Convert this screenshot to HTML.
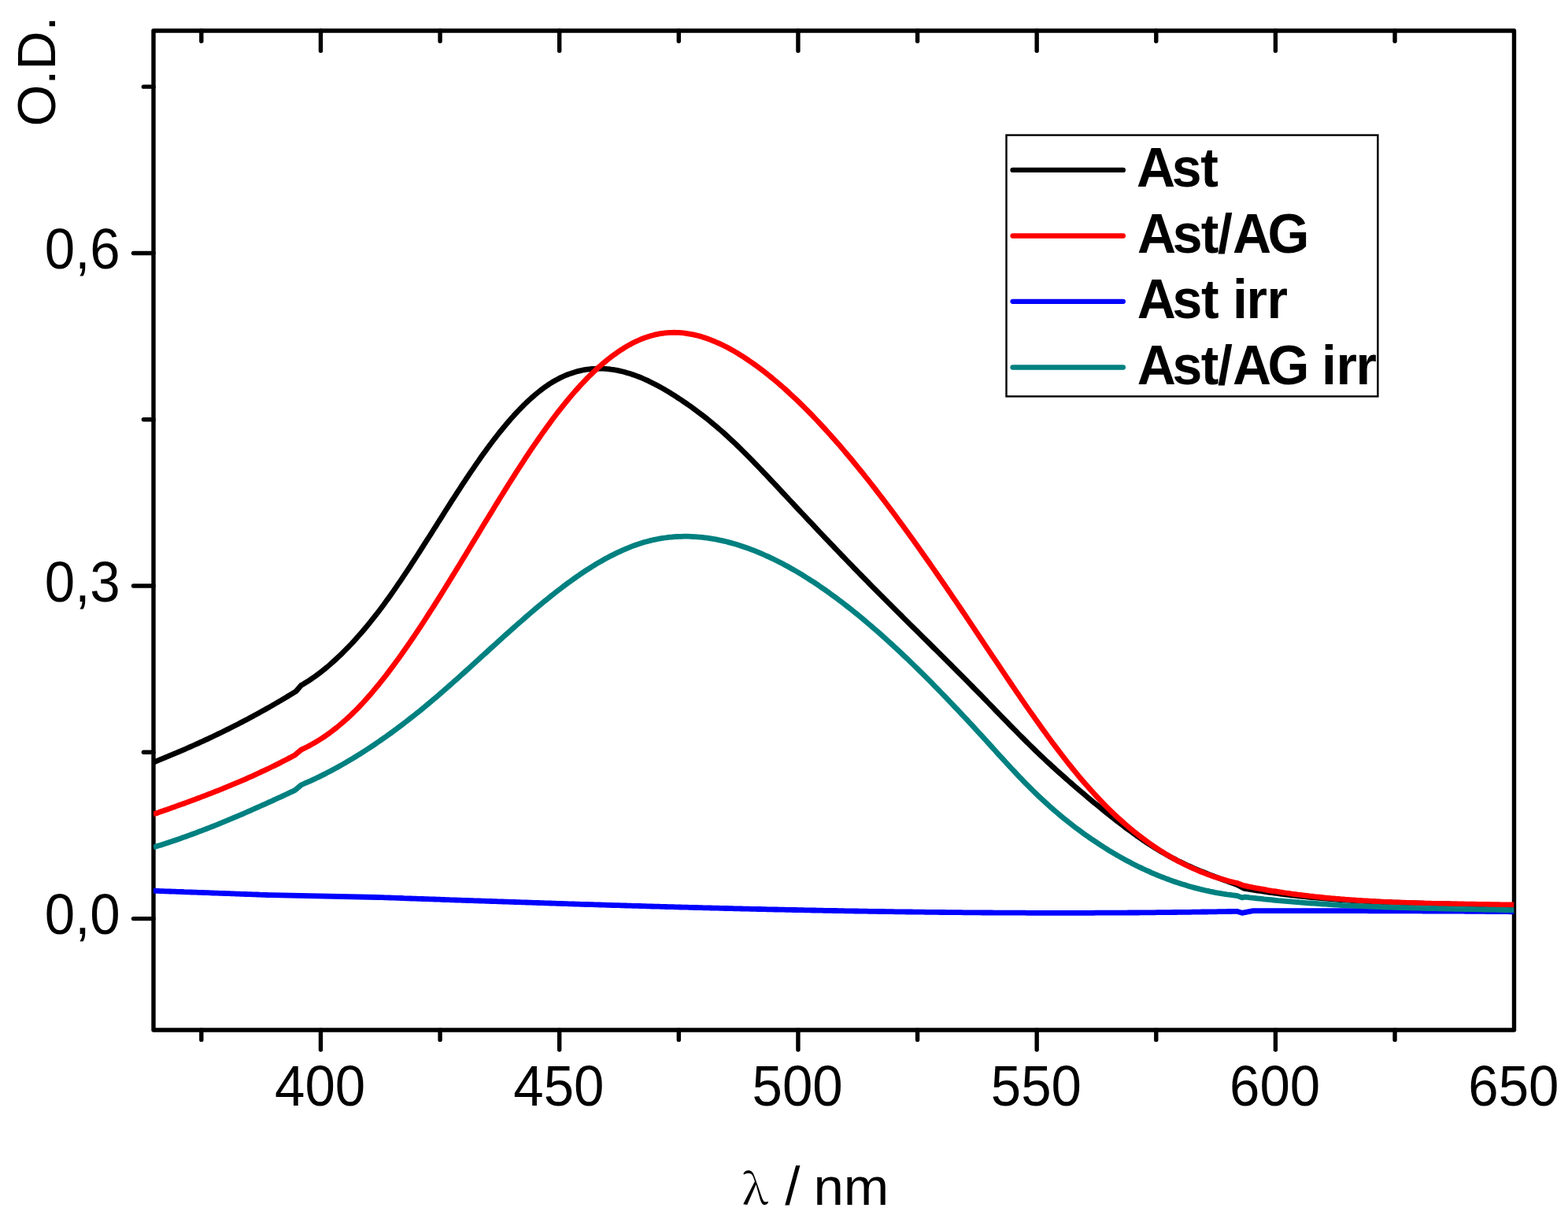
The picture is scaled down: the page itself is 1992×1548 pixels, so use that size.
<!DOCTYPE html>
<html><head><meta charset="utf-8"><title>O.D. spectra</title>
<style>
html,body{margin:0;padding:0;background:#fff;}
svg{display:block;}
text{font-family:"Liberation Sans",Arial,sans-serif;font-size:69px;fill:#000;}
.lg{font-weight:bold;font-size:68px;}
.lam{font-family:"Noto Serif CJK SC","Liberation Serif",serif;font-size:53px;}
</style></head><body>
<svg width="1992" height="1548" viewBox="0 0 1992 1548">
<rect width="1992" height="1548" fill="#fff"/>
<defs><clipPath id="pc"><rect x="195.0" y="39.0" width="1728.5" height="1269.0"/></clipPath></defs>
<g stroke="#000" stroke-width="5.4" stroke-linecap="round" fill="none">
<rect x="195.0" y="39.0" width="1728.5" height="1269.0" stroke-linejoin="round"/>
<line x1="255.83" y1="1308.0" x2="255.83" y2="1320.4"/>
<line x1="255.83" y1="39.0" x2="255.83" y2="52.3"/>
<line x1="407.45" y1="1308.0" x2="407.45" y2="1333.0"/>
<line x1="407.45" y1="39.0" x2="407.45" y2="64.5"/>
<line x1="559.07" y1="1308.0" x2="559.07" y2="1320.4"/>
<line x1="559.07" y1="39.0" x2="559.07" y2="52.3"/>
<line x1="710.69" y1="1308.0" x2="710.69" y2="1333.0"/>
<line x1="710.69" y1="39.0" x2="710.69" y2="64.5"/>
<line x1="862.31" y1="1308.0" x2="862.31" y2="1320.4"/>
<line x1="862.31" y1="39.0" x2="862.31" y2="52.3"/>
<line x1="1013.93" y1="1308.0" x2="1013.93" y2="1333.0"/>
<line x1="1013.93" y1="39.0" x2="1013.93" y2="64.5"/>
<line x1="1165.55" y1="1308.0" x2="1165.55" y2="1320.4"/>
<line x1="1165.55" y1="39.0" x2="1165.55" y2="52.3"/>
<line x1="1317.17" y1="1308.0" x2="1317.17" y2="1333.0"/>
<line x1="1317.17" y1="39.0" x2="1317.17" y2="64.5"/>
<line x1="1468.79" y1="1308.0" x2="1468.79" y2="1320.4"/>
<line x1="1468.79" y1="39.0" x2="1468.79" y2="52.3"/>
<line x1="1620.41" y1="1308.0" x2="1620.41" y2="1333.0"/>
<line x1="1620.41" y1="39.0" x2="1620.41" y2="64.5"/>
<line x1="1772.03" y1="1308.0" x2="1772.03" y2="1320.4"/>
<line x1="1772.03" y1="39.0" x2="1772.03" y2="52.3"/>
<line x1="195.0" y1="1166.60" x2="169.5" y2="1166.60"/>
<line x1="195.0" y1="955.31" x2="182.4" y2="955.31"/>
<line x1="195.0" y1="744.02" x2="169.5" y2="744.02"/>
<line x1="195.0" y1="532.74" x2="182.4" y2="532.74"/>
<line x1="195.0" y1="321.45" x2="169.5" y2="321.45"/>
<line x1="195.0" y1="110.16" x2="182.4" y2="110.16"/>
</g>
<g fill="none" stroke-width="6.8" stroke-linejoin="round" stroke-linecap="butt" clip-path="url(#pc)">
<path stroke="#000000" d="M195.0,968.0 198.0,966.8 201.0,965.6 204.0,964.4 207.0,963.2 210.0,961.9 213.0,960.7 216.0,959.4 219.0,958.2 222.0,956.9 225.0,955.7 228.0,954.4 231.0,953.1 234.0,951.8 237.0,950.5 240.0,949.2 243.0,947.8 246.0,946.5 249.0,945.2 252.0,943.8 255.0,942.4 258.0,941.1 261.0,939.7 264.0,938.3 267.0,936.9 270.0,935.5 273.0,934.0 276.0,932.6 279.0,931.2 282.0,929.7 285.0,928.2 288.0,926.7 291.0,925.3 294.0,923.7 297.0,922.2 300.0,920.7 303.0,919.2 306.0,917.6 309.0,916.1 312.0,914.5 315.0,912.9 318.0,911.3 321.0,909.7 324.0,908.1 327.0,906.4 330.0,904.8 333.0,903.1 336.0,901.5 339.0,899.8 342.0,898.1 345.0,896.4 348.0,894.6 351.0,892.9 354.0,891.1 357.0,889.4 360.0,887.6 363.0,885.8 366.0,884.0 369.0,882.2 372.0,880.4 375.0,878.5 376.2,877.8 382.6,870.3 385.6,868.6 388.6,866.7 391.6,864.8 394.6,862.9 397.6,860.8 400.6,858.7 403.6,856.5 406.6,854.2 409.6,851.9 412.6,849.5 415.6,847.0 418.6,844.5 421.6,841.8 424.6,839.1 427.6,836.4 430.6,833.6 433.6,830.7 436.6,827.7 439.6,824.7 442.6,821.6 445.6,818.5 448.6,815.3 451.6,812.0 454.6,808.6 457.6,805.2 460.6,801.8 463.6,798.2 466.6,794.6 469.6,791.0 472.6,787.2 475.6,783.4 478.6,779.6 481.6,775.7 484.6,771.7 487.6,767.7 490.6,763.6 493.6,759.4 496.6,755.2 499.6,750.9 502.6,746.6 505.6,742.2 508.6,737.8 511.6,733.4 514.6,728.9 517.6,724.4 520.6,719.8 523.6,715.2 526.6,710.6 529.6,706.0 532.6,701.3 535.6,696.6 538.6,691.9 541.6,687.2 544.6,682.5 547.6,677.8 550.6,673.0 553.6,668.3 556.6,663.5 559.6,658.8 562.6,654.1 565.6,649.3 568.6,644.6 571.6,639.9 574.6,635.2 577.6,630.6 580.6,625.9 583.6,621.3 586.6,616.7 589.6,612.2 592.6,607.6 595.6,603.1 598.6,598.7 601.6,594.3 604.6,589.9 607.6,585.6 610.6,581.3 613.6,577.1 616.6,572.9 619.6,568.8 622.6,564.7 625.6,560.8 628.6,556.8 631.6,553.0 634.6,549.2 637.6,545.5 640.6,541.8 643.6,538.2 646.6,534.7 649.6,531.3 652.6,527.9 655.6,524.7 658.6,521.5 661.6,518.4 664.6,515.3 667.6,512.4 670.6,509.5 673.6,506.8 676.6,504.1 679.6,501.5 682.6,499.0 685.6,496.6 688.6,494.3 691.6,492.1 694.6,490.0 697.6,487.9 700.6,486.0 703.6,484.2 706.6,482.5 709.6,480.9 712.6,479.4 715.6,478.0 718.6,476.7 721.6,475.5 724.6,474.4 727.6,473.4 730.6,472.5 733.6,471.6 736.6,470.9 739.6,470.2 742.6,469.7 745.6,469.2 748.6,468.8 751.6,468.5 754.6,468.3 757.6,468.1 760.6,468.1 763.6,468.1 766.6,468.2 769.6,468.4 772.6,468.7 775.6,469.0 778.6,469.4 781.6,469.9 784.6,470.4 787.6,471.1 790.6,471.8 793.6,472.5 796.6,473.4 799.6,474.3 802.6,475.2 805.6,476.3 808.6,477.4 811.6,478.5 814.6,479.7 817.6,481.0 820.6,482.3 823.6,483.7 826.6,485.2 829.6,486.7 832.6,488.2 835.6,489.8 838.6,491.4 841.6,493.1 844.6,494.8 847.6,496.6 850.6,498.4 853.6,500.3 856.6,502.2 859.6,504.1 862.6,506.1 865.6,508.0 868.6,510.1 871.6,512.1 874.6,514.2 877.6,516.3 880.6,518.5 883.6,520.7 886.6,522.9 889.6,525.2 892.6,527.5 895.6,529.8 898.6,532.2 901.6,534.6 904.6,537.1 907.6,539.6 910.6,542.1 913.6,544.7 916.6,547.3 919.6,549.9 922.6,552.6 925.6,555.4 928.6,558.2 931.6,561.0 934.6,563.8 937.6,566.7 940.6,569.7 943.6,572.6 946.6,575.6 949.6,578.6 952.6,581.6 955.6,584.7 958.6,587.8 961.6,590.9 964.6,594.0 967.6,597.1 970.6,600.3 973.6,603.4 976.6,606.6 979.6,609.8 982.6,613.0 985.6,616.2 988.6,619.4 991.6,622.6 994.6,625.8 997.6,629.0 1000.6,632.3 1003.6,635.5 1006.6,638.7 1009.6,641.9 1012.6,645.1 1015.6,648.3 1018.6,651.5 1021.6,654.7 1024.6,657.9 1027.6,661.1 1030.6,664.2 1033.6,667.4 1036.6,670.6 1039.6,673.8 1042.6,677.0 1045.6,680.1 1048.6,683.3 1051.6,686.4 1054.6,689.6 1057.6,692.7 1060.6,695.9 1063.6,699.0 1066.6,702.1 1069.6,705.3 1072.6,708.4 1075.6,711.5 1078.6,714.6 1081.6,717.7 1084.6,720.8 1087.6,723.9 1090.6,727.0 1093.6,730.0 1096.6,733.1 1099.6,736.2 1102.6,739.2 1105.6,742.3 1108.6,745.3 1111.6,748.3 1114.6,751.4 1117.6,754.4 1120.6,757.4 1123.6,760.4 1126.6,763.4 1129.6,766.4 1132.6,769.4 1135.6,772.4 1138.6,775.4 1141.6,778.4 1144.6,781.3 1147.6,784.3 1150.6,787.3 1153.6,790.3 1156.6,793.3 1159.6,796.2 1162.6,799.2 1165.6,802.2 1168.6,805.1 1171.6,808.1 1174.6,811.1 1177.6,814.0 1180.6,817.0 1183.6,820.0 1186.6,823.0 1189.6,825.9 1192.6,828.9 1195.6,831.9 1198.6,834.9 1201.6,837.9 1204.6,840.9 1207.6,843.8 1210.6,846.8 1213.6,849.8 1216.6,852.9 1219.6,855.9 1222.6,858.9 1225.6,861.9 1228.6,864.9 1231.6,868.0 1234.6,871.0 1237.6,874.1 1240.6,877.1 1243.6,880.2 1246.6,883.2 1249.6,886.3 1252.6,889.4 1255.6,892.5 1258.6,895.6 1261.6,898.7 1264.6,901.8 1267.6,904.9 1270.6,908.0 1273.6,911.1 1276.6,914.1 1279.6,917.2 1282.6,920.3 1285.6,923.4 1288.6,926.4 1291.6,929.4 1294.6,932.5 1297.6,935.5 1300.6,938.5 1303.6,941.5 1306.6,944.4 1309.6,947.4 1312.6,950.3 1315.6,953.2 1318.6,956.1 1321.6,958.9 1324.6,961.7 1327.6,964.6 1330.6,967.4 1333.6,970.1 1336.6,972.9 1339.6,975.6 1342.6,978.4 1345.6,981.1 1348.6,983.8 1351.6,986.4 1354.6,989.1 1357.6,991.7 1360.6,994.4 1363.6,997.0 1366.6,999.6 1369.6,1002.1 1372.6,1004.7 1375.6,1007.2 1378.6,1009.8 1381.6,1012.3 1384.6,1014.8 1387.6,1017.3 1390.6,1019.8 1393.6,1022.2 1396.6,1024.7 1399.6,1027.1 1402.6,1029.6 1405.6,1032.0 1408.6,1034.4 1411.6,1036.8 1414.6,1039.1 1417.6,1041.5 1420.6,1043.8 1423.6,1046.1 1426.6,1048.4 1429.6,1050.7 1432.6,1052.9 1435.6,1055.1 1438.6,1057.3 1441.6,1059.5 1444.6,1061.6 1447.6,1063.7 1450.6,1065.8 1453.6,1067.8 1456.6,1069.8 1459.6,1071.8 1462.6,1073.7 1465.6,1075.7 1468.6,1077.5 1471.6,1079.4 1474.6,1081.2 1477.6,1082.9 1480.6,1084.6 1483.6,1086.3 1486.6,1088.0 1489.6,1089.6 1492.6,1091.1 1495.6,1092.7 1498.6,1094.2 1501.6,1095.6 1504.6,1097.1 1507.6,1098.5 1510.6,1099.8 1513.6,1101.2 1516.6,1102.5 1519.6,1103.8 1522.6,1105.1 1525.6,1106.3 1528.6,1107.5 1531.6,1108.7 1534.6,1109.9 1537.6,1111.1 1540.6,1112.2 1543.6,1113.4 1546.6,1114.5 1549.6,1115.6 1552.6,1116.7 1555.6,1117.8 1558.6,1118.9 1561.6,1120.0 1564.6,1121.0 1567.6,1122.1 1570.6,1123.2 1571.0,1123.3 1580.0,1128.1 1583.0,1128.6 1586.0,1129.1 1589.0,1129.6 1592.0,1130.1 1595.0,1130.6 1598.0,1131.1 1601.0,1131.5 1604.0,1132.0 1607.0,1132.4 1610.0,1132.9 1613.0,1133.3 1616.0,1133.7 1619.0,1134.1 1622.0,1134.5 1625.0,1134.9 1628.0,1135.3 1631.0,1135.7 1634.0,1136.1 1637.0,1136.4 1640.0,1136.8 1643.0,1137.1 1646.0,1137.4 1649.0,1137.8 1652.0,1138.1 1655.0,1138.4 1658.0,1138.7 1661.0,1139.0 1664.0,1139.3 1667.0,1139.6 1670.0,1139.9 1673.0,1140.1 1676.0,1140.4 1679.0,1140.7 1682.0,1140.9 1685.0,1141.2 1688.0,1141.4 1691.0,1141.6 1694.0,1141.9 1697.0,1142.1 1700.0,1142.3 1703.0,1142.5 1706.0,1142.7 1709.0,1142.9 1712.0,1143.1 1715.0,1143.3 1718.0,1143.5 1721.0,1143.7 1724.0,1143.8 1727.0,1144.0 1730.0,1144.2 1733.0,1144.3 1736.0,1144.5 1739.0,1144.7 1742.0,1144.8 1745.0,1144.9 1748.0,1145.1 1751.0,1145.2 1754.0,1145.3 1757.0,1145.5 1760.0,1145.6 1763.0,1145.7 1766.0,1145.8 1769.0,1146.0 1772.0,1146.1 1775.0,1146.2 1778.0,1146.3 1781.0,1146.4 1784.0,1146.5 1787.0,1146.6 1790.0,1146.7 1793.0,1146.8 1796.0,1146.9 1799.0,1146.9 1802.0,1147.0 1805.0,1147.1 1808.0,1147.2 1811.0,1147.3 1814.0,1147.4 1817.0,1147.4 1820.0,1147.5 1823.0,1147.6 1826.0,1147.7 1829.0,1147.7 1832.0,1147.8 1835.0,1147.9 1838.0,1147.9 1841.0,1148.0 1844.0,1148.1 1847.0,1148.2 1850.0,1148.2 1853.0,1148.3 1856.0,1148.4 1859.0,1148.4 1862.0,1148.5 1865.0,1148.6 1868.0,1148.6 1871.0,1148.7 1874.0,1148.8 1877.0,1148.9 1880.0,1148.9 1883.0,1149.0 1886.0,1149.1 1889.0,1149.2 1892.0,1149.2 1895.0,1149.3 1898.0,1149.4 1901.0,1149.5 1904.0,1149.6 1907.0,1149.7 1910.0,1149.7 1913.0,1149.8 1916.0,1149.9 1919.0,1150.0 1922.0,1150.1 1923.5,1150.2"/>
<path stroke="#ff0000" d="M195.0,1034.0 198.0,1032.9 201.0,1031.9 204.0,1030.8 207.0,1029.8 210.0,1028.7 213.0,1027.7 216.0,1026.6 219.0,1025.5 222.0,1024.5 225.0,1023.4 228.0,1022.3 231.0,1021.3 234.0,1020.2 237.0,1019.1 240.0,1018.0 243.0,1016.9 246.0,1015.8 249.0,1014.6 252.0,1013.5 255.0,1012.4 258.0,1011.2 261.0,1010.1 264.0,1008.9 267.0,1007.8 270.0,1006.6 273.0,1005.4 276.0,1004.3 279.0,1003.1 282.0,1001.9 285.0,1000.6 288.0,999.4 291.0,998.2 294.0,996.9 297.0,995.7 300.0,994.4 303.0,993.1 306.0,991.9 309.0,990.6 312.0,989.3 315.0,987.9 318.0,986.6 321.0,985.3 324.0,983.9 327.0,982.5 330.0,981.1 333.0,979.7 336.0,978.3 339.0,976.9 342.0,975.5 345.0,974.0 348.0,972.6 351.0,971.1 354.0,969.6 357.0,968.1 360.0,966.5 363.0,965.0 366.0,963.4 369.0,961.9 372.0,960.3 374.9,958.7 382.6,952.1 385.6,950.7 388.6,949.2 391.6,947.7 394.6,946.1 397.6,944.4 400.6,942.7 403.6,940.9 406.6,939.0 409.6,937.1 412.6,935.1 415.6,933.0 418.6,930.9 421.6,928.6 424.6,926.3 427.6,924.0 430.6,921.5 433.6,919.0 436.6,916.4 439.6,913.8 442.6,911.0 445.6,908.2 448.6,905.3 451.6,902.4 454.6,899.3 457.6,896.2 460.6,893.0 463.6,889.7 466.6,886.4 469.6,883.0 472.6,879.5 475.6,875.9 478.6,872.3 481.6,868.7 484.6,864.9 487.6,861.1 490.6,857.3 493.6,853.4 496.6,849.4 499.6,845.4 502.6,841.3 505.6,837.2 508.6,833.1 511.6,828.8 514.6,824.6 517.6,820.3 520.6,815.9 523.6,811.5 526.6,807.1 529.6,802.6 532.6,798.1 535.6,793.6 538.6,789.0 541.6,784.4 544.6,779.7 547.6,775.0 550.6,770.3 553.6,765.6 556.6,760.9 559.6,756.1 562.6,751.3 565.6,746.5 568.6,741.6 571.6,736.8 574.6,731.9 577.6,727.0 580.6,722.1 583.6,717.2 586.6,712.3 589.6,707.4 592.6,702.4 595.6,697.5 598.6,692.5 601.6,687.6 604.6,682.7 607.6,677.7 610.6,672.8 613.6,667.8 616.6,662.9 619.6,658.0 622.6,653.1 625.6,648.2 628.6,643.3 631.6,638.4 634.6,633.5 637.6,628.7 640.6,623.9 643.6,619.1 646.6,614.3 649.6,609.6 652.6,604.9 655.6,600.2 658.6,595.5 661.6,590.9 664.6,586.3 667.6,581.7 670.6,577.2 673.6,572.7 676.6,568.2 679.6,563.8 682.6,559.5 685.6,555.2 688.6,550.9 691.6,546.7 694.6,542.5 697.6,538.4 700.6,534.3 703.6,530.3 706.6,526.3 709.6,522.4 712.6,518.6 715.6,514.8 718.6,511.1 721.6,507.5 724.6,503.9 727.6,500.4 730.6,496.9 733.6,493.6 736.6,490.2 739.6,487.0 742.6,483.8 745.6,480.7 748.6,477.7 751.6,474.8 754.6,471.9 757.6,469.1 760.6,466.3 763.6,463.7 766.6,461.1 769.6,458.6 772.6,456.2 775.6,453.8 778.6,451.6 781.6,449.4 784.6,447.3 787.6,445.2 790.6,443.3 793.6,441.4 796.6,439.6 799.6,437.9 802.6,436.3 805.6,434.8 808.6,433.3 811.6,432.0 814.6,430.7 817.6,429.5 820.6,428.4 823.6,427.4 826.6,426.5 829.6,425.7 832.6,424.9 835.6,424.3 838.6,423.7 841.6,423.3 844.6,422.9 847.6,422.6 850.6,422.4 853.6,422.3 856.6,422.2 859.6,422.3 862.6,422.4 865.6,422.6 868.6,422.9 871.6,423.3 874.6,423.8 877.6,424.3 880.6,424.9 883.6,425.6 886.6,426.3 889.6,427.1 892.6,428.0 895.6,429.0 898.6,430.0 901.6,431.1 904.6,432.3 907.6,433.5 910.6,434.8 913.6,436.1 916.6,437.5 919.6,439.0 922.6,440.5 925.6,442.1 928.6,443.7 931.6,445.4 934.6,447.1 937.6,448.9 940.6,450.8 943.6,452.7 946.6,454.6 949.6,456.6 952.6,458.7 955.6,460.8 958.6,462.9 961.6,465.1 964.6,467.3 967.6,469.5 970.6,471.8 973.6,474.2 976.6,476.6 979.6,479.0 982.6,481.5 985.6,484.0 988.6,486.5 991.6,489.1 994.6,491.7 997.6,494.4 1000.6,497.1 1003.6,499.9 1006.6,502.7 1009.6,505.5 1012.6,508.3 1015.6,511.2 1018.6,514.2 1021.6,517.1 1024.6,520.1 1027.6,523.2 1030.6,526.2 1033.6,529.3 1036.6,532.5 1039.6,535.7 1042.6,538.9 1045.6,542.1 1048.6,545.4 1051.6,548.7 1054.6,552.0 1057.6,555.4 1060.6,558.8 1063.6,562.2 1066.6,565.6 1069.6,569.1 1072.6,572.6 1075.6,576.2 1078.6,579.7 1081.6,583.3 1084.6,587.0 1087.6,590.6 1090.6,594.3 1093.6,598.0 1096.6,601.7 1099.6,605.5 1102.6,609.2 1105.6,613.0 1108.6,616.9 1111.6,620.7 1114.6,624.6 1117.6,628.5 1120.6,632.4 1123.6,636.3 1126.6,640.3 1129.6,644.3 1132.6,648.3 1135.6,652.3 1138.6,656.3 1141.6,660.4 1144.6,664.5 1147.6,668.6 1150.6,672.7 1153.6,676.8 1156.6,681.0 1159.6,685.1 1162.6,689.3 1165.6,693.5 1168.6,697.7 1171.6,702.0 1174.6,706.2 1177.6,710.5 1180.6,714.8 1183.6,719.1 1186.6,723.4 1189.6,727.7 1192.6,732.0 1195.6,736.4 1198.6,740.7 1201.6,745.1 1204.6,749.5 1207.6,753.9 1210.6,758.3 1213.6,762.7 1216.6,767.1 1219.6,771.5 1222.6,776.0 1225.6,780.4 1228.6,784.9 1231.6,789.4 1234.6,793.8 1237.6,798.3 1240.6,802.8 1243.6,807.3 1246.6,811.8 1249.6,816.3 1252.6,820.8 1255.6,825.3 1258.6,829.8 1261.6,834.3 1264.6,838.7 1267.6,843.2 1270.6,847.7 1273.6,852.2 1276.6,856.6 1279.6,861.1 1282.6,865.5 1285.6,870.0 1288.6,874.4 1291.6,878.8 1294.6,883.2 1297.6,887.6 1300.6,891.9 1303.6,896.3 1306.6,900.6 1309.6,904.9 1312.6,909.1 1315.6,913.4 1318.6,917.6 1321.6,921.8 1324.6,926.0 1327.6,930.1 1330.6,934.3 1333.6,938.3 1336.6,942.4 1339.6,946.4 1342.6,950.4 1345.6,954.4 1348.6,958.3 1351.6,962.1 1354.6,966.0 1357.6,969.8 1360.6,973.5 1363.6,977.3 1366.6,980.9 1369.6,984.6 1372.6,988.2 1375.6,991.7 1378.6,995.2 1381.6,998.6 1384.6,1002.0 1387.6,1005.3 1390.6,1008.6 1393.6,1011.9 1396.6,1015.1 1399.6,1018.2 1402.6,1021.3 1405.6,1024.3 1408.6,1027.3 1411.6,1030.2 1414.6,1033.1 1417.6,1035.9 1420.6,1038.7 1423.6,1041.4 1426.6,1044.1 1429.6,1046.7 1432.6,1049.3 1435.6,1051.8 1438.6,1054.3 1441.6,1056.8 1444.6,1059.1 1447.6,1061.5 1450.6,1063.8 1453.6,1066.0 1456.6,1068.2 1459.6,1070.4 1462.6,1072.5 1465.6,1074.6 1468.6,1076.6 1471.6,1078.6 1474.6,1080.5 1477.6,1082.4 1480.6,1084.3 1483.6,1086.1 1486.6,1087.9 1489.6,1089.6 1492.6,1091.3 1495.6,1092.9 1498.6,1094.5 1501.6,1096.0 1504.6,1097.6 1507.6,1099.0 1510.6,1100.5 1513.6,1101.9 1516.6,1103.2 1519.6,1104.5 1522.6,1105.8 1525.6,1107.0 1528.6,1108.2 1531.6,1109.4 1534.6,1110.5 1537.6,1111.6 1540.6,1112.7 1543.6,1113.7 1546.6,1114.6 1549.6,1115.6 1552.6,1116.5 1555.6,1117.3 1558.6,1118.2 1561.6,1119.0 1564.6,1119.7 1567.6,1120.5 1570.6,1121.2 1571.3,1121.3 1580.0,1124.6 1583.0,1125.2 1586.0,1125.8 1589.0,1126.4 1592.0,1127.0 1595.0,1127.6 1598.0,1128.1 1601.0,1128.7 1604.0,1129.2 1607.0,1129.7 1610.0,1130.3 1613.0,1130.8 1616.0,1131.3 1619.0,1131.7 1622.0,1132.2 1625.0,1132.7 1628.0,1133.1 1631.0,1133.6 1634.0,1134.0 1637.0,1134.4 1640.0,1134.9 1643.0,1135.3 1646.0,1135.7 1649.0,1136.1 1652.0,1136.4 1655.0,1136.8 1658.0,1137.2 1661.0,1137.5 1664.0,1137.9 1667.0,1138.2 1670.0,1138.6 1673.0,1138.9 1676.0,1139.2 1679.0,1139.5 1682.0,1139.8 1685.0,1140.1 1688.0,1140.4 1691.0,1140.7 1694.0,1140.9 1697.0,1141.2 1700.0,1141.4 1703.0,1141.7 1706.0,1141.9 1709.0,1142.2 1712.0,1142.4 1715.0,1142.6 1718.0,1142.8 1721.0,1143.0 1724.0,1143.3 1727.0,1143.5 1730.0,1143.6 1733.0,1143.8 1736.0,1144.0 1739.0,1144.2 1742.0,1144.4 1745.0,1144.5 1748.0,1144.7 1751.0,1144.8 1754.0,1145.0 1757.0,1145.1 1760.0,1145.3 1763.0,1145.4 1766.0,1145.5 1769.0,1145.7 1772.0,1145.8 1775.0,1145.9 1778.0,1146.0 1781.0,1146.1 1784.0,1146.2 1787.0,1146.3 1790.0,1146.4 1793.0,1146.5 1796.0,1146.6 1799.0,1146.7 1802.0,1146.8 1805.0,1146.9 1808.0,1147.0 1811.0,1147.1 1814.0,1147.1 1817.0,1147.2 1820.0,1147.3 1823.0,1147.3 1826.0,1147.4 1829.0,1147.5 1832.0,1147.5 1835.0,1147.6 1838.0,1147.6 1841.0,1147.7 1844.0,1147.8 1847.0,1147.8 1850.0,1147.9 1853.0,1147.9 1856.0,1148.0 1859.0,1148.0 1862.0,1148.1 1865.0,1148.1 1868.0,1148.2 1871.0,1148.2 1874.0,1148.2 1877.0,1148.3 1880.0,1148.3 1883.0,1148.4 1886.0,1148.4 1889.0,1148.5 1892.0,1148.5 1895.0,1148.6 1898.0,1148.6 1901.0,1148.7 1904.0,1148.7 1907.0,1148.8 1910.0,1148.8 1913.0,1148.9 1916.0,1148.9 1919.0,1149.0 1922.0,1149.0 1923.5,1149.1"/>
<path stroke="#0000ff" d="M195.0,1131.2 198.0,1131.3 201.0,1131.4 204.0,1131.6 207.0,1131.7 210.0,1131.8 213.0,1131.9 216.0,1132.0 219.0,1132.1 222.0,1132.2 225.0,1132.3 228.0,1132.4 231.0,1132.5 234.0,1132.7 237.0,1132.8 240.0,1132.9 243.0,1133.0 246.0,1133.1 249.0,1133.2 252.0,1133.3 255.0,1133.4 258.0,1133.5 261.0,1133.6 264.0,1133.7 267.0,1133.9 270.0,1134.0 273.0,1134.1 276.0,1134.2 279.0,1134.3 282.0,1134.4 285.0,1134.5 288.0,1134.6 291.0,1134.7 294.0,1134.8 297.0,1134.9 300.0,1135.1 303.0,1135.2 306.0,1135.3 309.0,1135.4 312.0,1135.5 315.0,1135.6 318.0,1135.7 321.0,1135.8 324.0,1135.9 327.0,1136.0 330.0,1136.2 333.0,1136.3 336.0,1136.4 339.0,1136.5 342.0,1136.6 345.0,1136.7 480.0,1139.5 483.0,1139.6 486.0,1139.7 489.0,1139.8 492.0,1139.9 495.0,1140.0 498.0,1140.1 501.0,1140.2 504.0,1140.3 507.0,1140.4 510.0,1140.5 513.0,1140.7 516.0,1140.8 519.0,1140.9 522.0,1141.0 525.0,1141.1 528.0,1141.2 531.0,1141.3 534.0,1141.4 537.0,1141.5 540.0,1141.6 543.0,1141.7 546.0,1141.8 549.0,1141.9 552.0,1142.0 555.0,1142.1 558.0,1142.2 561.0,1142.4 564.0,1142.5 567.0,1142.6 570.0,1142.7 573.0,1142.8 576.0,1142.9 579.0,1143.0 582.0,1143.1 585.0,1143.2 588.0,1143.3 591.0,1143.4 594.0,1143.5 597.0,1143.6 600.0,1143.7 603.0,1143.8 606.0,1143.9 609.0,1144.0 612.0,1144.1 615.0,1144.2 618.0,1144.3 621.0,1144.4 624.0,1144.5 627.0,1144.6 630.0,1144.7 633.0,1144.8 636.0,1144.9 639.0,1145.0 642.0,1145.1 645.0,1145.2 648.0,1145.3 651.0,1145.4 654.0,1145.5 657.0,1145.6 660.0,1145.7 663.0,1145.8 666.0,1145.9 669.0,1146.0 672.0,1146.1 675.0,1146.2 678.0,1146.3 681.0,1146.4 684.0,1146.5 687.0,1146.6 690.0,1146.7 693.0,1146.8 696.0,1146.9 699.0,1147.0 702.0,1147.1 705.0,1147.2 708.0,1147.3 711.0,1147.4 714.0,1147.5 717.0,1147.6 720.0,1147.7 723.0,1147.8 726.0,1147.9 729.0,1148.0 732.0,1148.1 735.0,1148.2 738.0,1148.3 741.0,1148.4 744.0,1148.5 747.0,1148.5 750.0,1148.6 753.0,1148.7 756.0,1148.8 759.0,1148.9 762.0,1149.0 765.0,1149.1 768.0,1149.2 771.0,1149.3 774.0,1149.4 777.0,1149.5 780.0,1149.6 783.0,1149.6 786.0,1149.7 789.0,1149.8 792.0,1149.9 795.0,1150.0 798.0,1150.1 801.0,1150.2 804.0,1150.3 807.0,1150.4 810.0,1150.4 813.0,1150.5 816.0,1150.6 819.0,1150.7 822.0,1150.8 825.0,1150.9 828.0,1151.0 831.0,1151.1 834.0,1151.1 837.0,1151.2 840.0,1151.3 843.0,1151.4 846.0,1151.5 849.0,1151.6 852.0,1151.6 855.0,1151.7 858.0,1151.8 861.0,1151.9 864.0,1152.0 867.0,1152.1 870.0,1152.1 873.0,1152.2 876.0,1152.3 879.0,1152.4 882.0,1152.5 885.0,1152.5 888.0,1152.6 891.0,1152.7 894.0,1152.8 897.0,1152.9 900.0,1152.9 903.0,1153.0 906.0,1153.1 909.0,1153.2 912.0,1153.2 915.0,1153.3 918.0,1153.4 921.0,1153.5 924.0,1153.5 927.0,1153.6 930.0,1153.7 933.0,1153.8 936.0,1153.8 939.0,1153.9 942.0,1154.0 945.0,1154.1 948.0,1154.1 951.0,1154.2 954.0,1154.3 957.0,1154.3 960.0,1154.4 963.0,1154.5 966.0,1154.5 969.0,1154.6 972.0,1154.7 975.0,1154.8 978.0,1154.8 981.0,1154.9 984.0,1155.0 987.0,1155.0 990.0,1155.1 993.0,1155.2 996.0,1155.2 999.0,1155.3 1002.0,1155.3 1005.0,1155.4 1008.0,1155.5 1011.0,1155.5 1014.0,1155.6 1017.0,1155.7 1020.0,1155.7 1023.0,1155.8 1026.0,1155.8 1029.0,1155.9 1032.0,1156.0 1035.0,1156.0 1038.0,1156.1 1041.0,1156.1 1044.0,1156.2 1047.0,1156.3 1050.0,1156.3 1053.0,1156.4 1056.0,1156.4 1059.0,1156.5 1062.0,1156.5 1065.0,1156.6 1068.0,1156.7 1071.0,1156.7 1074.0,1156.8 1077.0,1156.8 1080.0,1156.9 1083.0,1156.9 1086.0,1157.0 1089.0,1157.0 1092.0,1157.1 1095.0,1157.1 1098.0,1157.2 1101.0,1157.2 1104.0,1157.3 1107.0,1157.3 1110.0,1157.4 1113.0,1157.4 1116.0,1157.5 1119.0,1157.5 1122.0,1157.5 1125.0,1157.6 1128.0,1157.6 1131.0,1157.7 1134.0,1157.7 1137.0,1157.8 1140.0,1157.8 1143.0,1157.8 1146.0,1157.9 1149.0,1157.9 1152.0,1158.0 1155.0,1158.0 1158.0,1158.0 1161.0,1158.1 1164.0,1158.1 1167.0,1158.2 1170.0,1158.2 1173.0,1158.2 1176.0,1158.3 1179.0,1158.3 1182.0,1158.3 1185.0,1158.4 1188.0,1158.4 1191.0,1158.4 1194.0,1158.5 1197.0,1158.5 1200.0,1158.5 1203.0,1158.6 1206.0,1158.6 1209.0,1158.6 1212.0,1158.7 1215.0,1158.7 1218.0,1158.7 1221.0,1158.7 1224.0,1158.8 1227.0,1158.8 1230.0,1158.8 1233.0,1158.8 1236.0,1158.9 1239.0,1158.9 1242.0,1158.9 1245.0,1158.9 1248.0,1159.0 1251.0,1159.0 1254.0,1159.0 1257.0,1159.0 1260.0,1159.0 1263.0,1159.1 1266.0,1159.1 1269.0,1159.1 1272.0,1159.1 1275.0,1159.1 1278.0,1159.1 1281.0,1159.2 1284.0,1159.2 1287.0,1159.2 1290.0,1159.2 1293.0,1159.2 1296.0,1159.2 1299.0,1159.2 1302.0,1159.2 1305.0,1159.3 1308.0,1159.3 1311.0,1159.3 1314.0,1159.3 1317.0,1159.3 1320.0,1159.3 1323.0,1159.3 1326.0,1159.3 1329.0,1159.3 1332.0,1159.3 1335.0,1159.3 1338.0,1159.3 1341.0,1159.3 1344.0,1159.3 1347.0,1159.3 1350.0,1159.3 1353.0,1159.3 1356.0,1159.3 1359.0,1159.3 1362.0,1159.3 1365.0,1159.3 1368.0,1159.3 1371.0,1159.3 1374.0,1159.3 1377.0,1159.3 1380.0,1159.3 1383.0,1159.3 1386.0,1159.3 1389.0,1159.3 1392.0,1159.2 1395.0,1159.2 1398.0,1159.2 1401.0,1159.2 1404.0,1159.2 1407.0,1159.2 1410.0,1159.2 1413.0,1159.2 1416.0,1159.1 1419.0,1159.1 1422.0,1159.1 1425.0,1159.1 1428.0,1159.1 1431.0,1159.1 1434.0,1159.0 1437.0,1159.0 1440.0,1159.0 1443.0,1159.0 1446.0,1159.0 1449.0,1158.9 1452.0,1158.9 1455.0,1158.9 1458.0,1158.9 1461.0,1158.8 1464.0,1158.8 1467.0,1158.8 1470.0,1158.7 1473.0,1158.7 1476.0,1158.7 1479.0,1158.7 1482.0,1158.6 1485.0,1158.6 1488.0,1158.6 1491.0,1158.5 1494.0,1158.5 1497.0,1158.4 1500.0,1158.4 1503.0,1158.4 1506.0,1158.3 1509.0,1158.3 1512.0,1158.3 1515.0,1158.2 1518.0,1158.2 1521.0,1158.1 1524.0,1158.1 1527.0,1158.0 1530.0,1158.0 1533.0,1158.0 1536.0,1157.9 1539.0,1157.9 1542.0,1157.8 1545.0,1157.8 1548.0,1157.7 1551.0,1157.7 1554.0,1157.6 1557.0,1157.6 1560.0,1157.5 1563.0,1157.5 1566.0,1157.4 1569.0,1157.4 1571.3,1157.3 1577.8,1159.3 1592.0,1156.7 1595.0,1156.7 1598.0,1156.7 1601.0,1156.7 1604.0,1156.7 1607.0,1156.7 1610.0,1156.7 1613.0,1156.7 1616.0,1156.7 1619.0,1156.7 1622.0,1156.7 1625.0,1156.7 1628.0,1156.7 1631.0,1156.7 1634.0,1156.7 1637.0,1156.7 1640.0,1156.7 1643.0,1156.7 1646.0,1156.7 1649.0,1156.7 1652.0,1156.7 1655.0,1156.7 1658.0,1156.7 1661.0,1156.7 1664.0,1156.7 1667.0,1156.7 1670.0,1156.7 1673.0,1156.7 1676.0,1156.7 1679.0,1156.7 1682.0,1156.7 1685.0,1156.7 1688.0,1156.7 1691.0,1156.7 1694.0,1156.7 1697.0,1156.7 1700.0,1156.7 1703.0,1156.7 1706.0,1156.7 1709.0,1156.7 1712.0,1156.7 1715.0,1156.7 1718.0,1156.7 1721.0,1156.7 1724.0,1156.7 1727.0,1156.7 1730.0,1156.7 1733.0,1156.7 1736.0,1156.7 1739.0,1156.8 1742.0,1156.8 1745.0,1156.8 1748.0,1156.8 1751.0,1156.8 1754.0,1156.8 1757.0,1156.8 1760.0,1156.8 1763.0,1156.8 1766.0,1156.8 1769.0,1156.8 1772.0,1156.8 1775.0,1156.8 1778.0,1156.8 1781.0,1156.9 1784.0,1156.9 1787.0,1156.9 1790.0,1156.9 1793.0,1156.9 1796.0,1156.9 1799.0,1156.9 1802.0,1156.9 1805.0,1156.9 1808.0,1157.0 1811.0,1157.0 1814.0,1157.0 1817.0,1157.0 1820.0,1157.0 1823.0,1157.0 1826.0,1157.0 1829.0,1157.1 1832.0,1157.1 1835.0,1157.1 1838.0,1157.1 1841.0,1157.1 1844.0,1157.1 1847.0,1157.2 1850.0,1157.2 1853.0,1157.2 1856.0,1157.2 1859.0,1157.2 1862.0,1157.3 1865.0,1157.3 1868.0,1157.3 1871.0,1157.3 1874.0,1157.3 1877.0,1157.4 1880.0,1157.4 1883.0,1157.4 1886.0,1157.4 1889.0,1157.5 1892.0,1157.5 1895.0,1157.5 1898.0,1157.5 1901.0,1157.6 1904.0,1157.6 1907.0,1157.6 1910.0,1157.7 1913.0,1157.7 1916.0,1157.7 1919.0,1157.8 1922.0,1157.8 1923.5,1157.8"/>
<path stroke="#008080" d="M195.0,1076.0 198.0,1075.1 201.0,1074.1 204.0,1073.2 207.0,1072.2 210.0,1071.3 213.0,1070.3 216.0,1069.3 219.0,1068.3 222.0,1067.2 225.0,1066.2 228.0,1065.2 231.0,1064.1 234.0,1063.1 237.0,1062.0 240.0,1060.9 243.0,1059.8 246.0,1058.7 249.0,1057.6 252.0,1056.4 255.0,1055.3 258.0,1054.1 261.0,1053.0 264.0,1051.8 267.0,1050.6 270.0,1049.5 273.0,1048.3 276.0,1047.1 279.0,1045.8 282.0,1044.6 285.0,1043.4 288.0,1042.2 291.0,1040.9 294.0,1039.7 297.0,1038.4 300.0,1037.1 303.0,1035.8 306.0,1034.6 309.0,1033.3 312.0,1032.0 315.0,1030.7 318.0,1029.4 321.0,1028.0 324.0,1026.7 327.0,1025.4 330.0,1024.0 333.0,1022.7 336.0,1021.4 339.0,1020.0 342.0,1018.6 345.0,1017.3 348.0,1015.9 351.0,1014.5 354.0,1013.1 357.0,1011.8 360.0,1010.4 363.0,1009.0 366.0,1007.6 369.0,1006.2 372.0,1004.8 374.9,1003.4 382.6,996.8 385.6,995.5 388.6,994.2 391.6,992.9 394.6,991.6 397.6,990.2 400.6,988.8 403.6,987.3 406.6,985.9 409.6,984.4 412.6,982.9 415.6,981.3 418.6,979.8 421.6,978.2 424.6,976.6 427.6,974.9 430.6,973.3 433.6,971.6 436.6,969.9 439.6,968.2 442.6,966.4 445.6,964.6 448.6,962.8 451.6,961.0 454.6,959.2 457.6,957.3 460.6,955.4 463.6,953.5 466.6,951.5 469.6,949.6 472.6,947.6 475.6,945.6 478.6,943.5 481.6,941.5 484.6,939.4 487.6,937.3 490.6,935.2 493.6,933.0 496.6,930.9 499.6,928.7 502.6,926.5 505.6,924.3 508.6,922.0 511.6,919.7 514.6,917.4 517.6,915.1 520.6,912.8 523.6,910.4 526.6,908.1 529.6,905.7 532.6,903.3 535.6,900.8 538.6,898.4 541.6,895.9 544.6,893.4 547.6,890.9 550.6,888.3 553.6,885.8 556.6,883.2 559.6,880.6 562.6,878.0 565.6,875.4 568.6,872.8 571.6,870.1 574.6,867.5 577.6,864.8 580.6,862.2 583.6,859.5 586.6,856.8 589.6,854.1 592.6,851.4 595.6,848.7 598.6,846.0 601.6,843.2 604.6,840.5 607.6,837.8 610.6,835.0 613.6,832.3 616.6,829.6 619.6,826.9 622.6,824.1 625.6,821.4 628.6,818.7 631.6,816.0 634.6,813.2 637.6,810.5 640.6,807.8 643.6,805.1 646.6,802.5 649.6,799.8 652.6,797.1 655.6,794.5 658.6,791.8 661.6,789.2 664.6,786.6 667.6,783.9 670.6,781.4 673.6,778.8 676.6,776.2 679.6,773.7 682.6,771.2 685.6,768.6 688.6,766.2 691.6,763.7 694.6,761.3 697.6,758.8 700.6,756.4 703.6,754.1 706.6,751.7 709.6,749.4 712.6,747.1 715.6,744.8 718.6,742.6 721.6,740.3 724.6,738.2 727.6,736.0 730.6,733.9 733.6,731.8 736.6,729.7 739.6,727.7 742.6,725.7 745.6,723.7 748.6,721.8 751.6,719.9 754.6,718.0 757.6,716.2 760.6,714.4 763.6,712.7 766.6,711.0 769.6,709.3 772.6,707.7 775.6,706.1 778.6,704.6 781.6,703.1 784.6,701.7 787.6,700.3 790.6,698.9 793.6,697.6 796.6,696.3 799.6,695.1 802.6,693.9 805.6,692.8 808.6,691.7 811.6,690.7 814.6,689.8 817.6,688.8 820.6,688.0 823.6,687.2 826.6,686.4 829.6,685.7 832.6,685.1 835.6,684.5 838.6,683.9 841.6,683.4 844.6,683.0 847.6,682.6 850.6,682.2 853.6,682.0 856.6,681.7 859.6,681.5 862.6,681.4 865.6,681.3 868.6,681.2 871.6,681.2 874.6,681.2 877.6,681.3 880.6,681.5 883.6,681.6 886.6,681.9 889.6,682.1 892.6,682.4 895.6,682.8 898.6,683.2 901.6,683.6 904.6,684.1 907.6,684.6 910.6,685.2 913.6,685.8 916.6,686.4 919.6,687.1 922.6,687.8 925.6,688.6 928.6,689.4 931.6,690.2 934.6,691.1 937.6,692.0 940.6,693.0 943.6,694.0 946.6,695.0 949.6,696.0 952.6,697.1 955.6,698.3 958.6,699.4 961.6,700.6 964.6,701.9 967.6,703.2 970.6,704.5 973.6,705.8 976.6,707.2 979.6,708.6 982.6,710.0 985.6,711.5 988.6,713.0 991.6,714.5 994.6,716.1 997.6,717.7 1000.6,719.3 1003.6,721.0 1006.6,722.7 1009.6,724.4 1012.6,726.1 1015.6,727.9 1018.6,729.7 1021.6,731.6 1024.6,733.5 1027.6,735.4 1030.6,737.3 1033.6,739.2 1036.6,741.2 1039.6,743.2 1042.6,745.3 1045.6,747.3 1048.6,749.4 1051.6,751.6 1054.6,753.7 1057.6,755.9 1060.6,758.1 1063.6,760.3 1066.6,762.6 1069.6,764.8 1072.6,767.1 1075.6,769.5 1078.6,771.8 1081.6,774.2 1084.6,776.6 1087.6,779.0 1090.6,781.4 1093.6,783.9 1096.6,786.4 1099.6,788.9 1102.6,791.5 1105.6,794.0 1108.6,796.6 1111.6,799.2 1114.6,801.8 1117.6,804.4 1120.6,807.1 1123.6,809.8 1126.6,812.5 1129.6,815.2 1132.6,817.9 1135.6,820.7 1138.6,823.5 1141.6,826.3 1144.6,829.1 1147.6,831.9 1150.6,834.8 1153.6,837.6 1156.6,840.5 1159.6,843.4 1162.6,846.4 1165.6,849.3 1168.6,852.2 1171.6,855.2 1174.6,858.2 1177.6,861.2 1180.6,864.2 1183.6,867.2 1186.6,870.3 1189.6,873.3 1192.6,876.4 1195.6,879.5 1198.6,882.6 1201.6,885.7 1204.6,888.8 1207.6,892.0 1210.6,895.1 1213.6,898.3 1216.6,901.4 1219.6,904.6 1222.6,907.8 1225.6,911.0 1228.6,914.2 1231.6,917.5 1234.6,920.7 1237.6,923.9 1240.6,927.2 1243.6,930.5 1246.6,933.7 1249.6,937.0 1252.6,940.3 1255.6,943.6 1258.6,946.9 1261.6,950.2 1264.6,953.5 1267.6,956.9 1270.6,960.2 1273.6,963.4 1276.6,966.7 1279.6,970.0 1282.6,973.3 1285.6,976.5 1288.6,979.7 1291.6,982.9 1294.6,986.1 1297.6,989.2 1300.6,992.3 1303.6,995.4 1306.6,998.4 1309.6,1001.4 1312.6,1004.4 1315.6,1007.3 1318.6,1010.2 1321.6,1013.0 1324.6,1015.8 1327.6,1018.6 1330.6,1021.3 1333.6,1024.0 1336.6,1026.6 1339.6,1029.2 1342.6,1031.8 1345.6,1034.3 1348.6,1036.8 1351.6,1039.3 1354.6,1041.7 1357.6,1044.1 1360.6,1046.4 1363.6,1048.8 1366.6,1051.1 1369.6,1053.3 1372.6,1055.5 1375.6,1057.7 1378.6,1059.9 1381.6,1062.0 1384.6,1064.1 1387.6,1066.2 1390.6,1068.2 1393.6,1070.2 1396.6,1072.2 1399.6,1074.1 1402.6,1076.0 1405.6,1077.9 1408.6,1079.8 1411.6,1081.6 1414.6,1083.4 1417.6,1085.2 1420.6,1086.9 1423.6,1088.6 1426.6,1090.3 1429.6,1091.9 1432.6,1093.5 1435.6,1095.1 1438.6,1096.7 1441.6,1098.2 1444.6,1099.7 1447.6,1101.2 1450.6,1102.6 1453.6,1104.0 1456.6,1105.4 1459.6,1106.7 1462.6,1108.1 1465.6,1109.4 1468.6,1110.6 1471.6,1111.9 1474.6,1113.1 1477.6,1114.2 1480.6,1115.4 1483.6,1116.5 1486.6,1117.6 1489.6,1118.7 1492.6,1119.7 1495.6,1120.8 1498.6,1121.7 1501.6,1122.7 1504.6,1123.6 1507.6,1124.5 1510.6,1125.4 1513.6,1126.3 1516.6,1127.1 1519.6,1127.9 1522.6,1128.6 1525.6,1129.4 1528.6,1130.1 1531.6,1130.8 1534.6,1131.4 1537.6,1132.1 1540.6,1132.7 1543.6,1133.3 1546.6,1133.8 1549.6,1134.3 1552.6,1134.9 1555.6,1135.3 1558.6,1135.8 1561.6,1136.2 1564.6,1136.6 1567.6,1137.0 1570.6,1137.3 1571.3,1137.4 1577.8,1139.9 1581.7,1139.1 1584.7,1139.4 1587.7,1139.8 1590.7,1140.1 1593.7,1140.5 1596.7,1140.8 1599.7,1141.1 1602.7,1141.4 1605.7,1141.8 1608.7,1142.1 1611.7,1142.4 1614.7,1142.7 1617.7,1143.0 1620.7,1143.3 1623.7,1143.6 1626.7,1143.8 1629.7,1144.1 1632.7,1144.4 1635.7,1144.6 1638.7,1144.9 1641.7,1145.2 1644.7,1145.4 1647.7,1145.6 1650.7,1145.9 1653.7,1146.1 1656.7,1146.3 1659.7,1146.6 1662.7,1146.8 1665.7,1147.0 1668.7,1147.2 1671.7,1147.4 1674.7,1147.6 1677.7,1147.8 1680.7,1148.0 1683.7,1148.2 1686.7,1148.4 1689.7,1148.6 1692.7,1148.8 1695.7,1149.0 1698.7,1149.1 1701.7,1149.3 1704.7,1149.5 1707.7,1149.6 1710.7,1149.8 1713.7,1149.9 1716.7,1150.1 1719.7,1150.2 1722.7,1150.4 1725.7,1150.5 1728.7,1150.6 1731.7,1150.8 1734.7,1150.9 1737.7,1151.0 1740.7,1151.2 1743.7,1151.3 1746.7,1151.4 1749.7,1151.5 1752.7,1151.6 1755.7,1151.8 1758.7,1151.9 1761.7,1152.0 1764.7,1152.1 1767.7,1152.2 1770.7,1152.3 1773.7,1152.4 1776.7,1152.5 1779.7,1152.6 1782.7,1152.7 1785.7,1152.7 1788.7,1152.8 1791.7,1152.9 1794.7,1153.0 1797.7,1153.1 1800.7,1153.2 1803.7,1153.2 1806.7,1153.3 1809.7,1153.4 1812.7,1153.5 1815.7,1153.5 1818.7,1153.6 1821.7,1153.7 1824.7,1153.7 1827.7,1153.8 1830.7,1153.9 1833.7,1153.9 1836.7,1154.0 1839.7,1154.1 1842.7,1154.1 1845.7,1154.2 1848.7,1154.3 1851.7,1154.3 1854.7,1154.4 1857.7,1154.4 1860.7,1154.5 1863.7,1154.6 1866.7,1154.6 1869.7,1154.7 1872.7,1154.7 1875.7,1154.8 1878.7,1154.8 1881.7,1154.9 1884.7,1155.0 1887.7,1155.0 1890.7,1155.1 1893.7,1155.1 1896.7,1155.2 1899.7,1155.2 1902.7,1155.3 1905.7,1155.4 1908.7,1155.4 1911.7,1155.5 1914.7,1155.5 1917.7,1155.6 1920.7,1155.7 1923.5,1155.7"/>
</g>
<text transform="translate(406.65,1404.20) scale(1,1.036)" text-anchor="middle">400</text><text transform="translate(709.89,1404.20) scale(1,1.036)" text-anchor="middle">450</text><text transform="translate(1013.13,1404.20) scale(1,1.036)" text-anchor="middle">500</text><text transform="translate(1316.37,1404.20) scale(1,1.036)" text-anchor="middle">550</text><text transform="translate(1619.61,1404.20) scale(1,1.036)" text-anchor="middle">600</text><text transform="translate(1922.85,1404.20) scale(1,1.036)" text-anchor="middle">650</text>
<text transform="translate(152.70,1186.20) scale(1,1.036)" text-anchor="end">0,0</text><text transform="translate(152.70,763.62) scale(1,1.036)" text-anchor="end">0,3</text><text transform="translate(152.70,341.05) scale(1,1.036)" text-anchor="end">0,6</text>
<text transform="translate(70,160.6) rotate(-90) scale(0.987,1.0)">O.D.</text>
<text class="lam" transform="translate(943.1,1529.2) scale(1.065,1)">λ</text>
<text x="997.2" y="1530">/</text>
<text transform="translate(1033.4,1529.8) scale(1,0.965)">nm</text>
<rect x="1278.5" y="171.6" width="471.9" height="331.8" fill="none" stroke="#000" stroke-width="2.4"/>
<line x1="1286.55" y1="215.9" x2="1426.85" y2="215.9" stroke="#000000" stroke-width="6.3" stroke-linecap="round"/><text class="lg" transform="translate(0,236.7) scale(1,1.037)" x="1443.90 1488.70 1525.20" y="0">Ast</text><line x1="1286.55" y1="299.5" x2="1426.85" y2="299.5" stroke="#ff0000" stroke-width="6.3" stroke-linecap="round"/><text class="lg" transform="translate(0,320.9) scale(1,1.037)" x="1444.95 1489.64 1525.83 1547.11 1565.95 1610.42" y="0">Ast/AG</text><line x1="1286.55" y1="382.8" x2="1426.85" y2="382.8" stroke="#0000ff" stroke-width="6.3" stroke-linecap="round"/><text class="lg" transform="translate(0,404.0) scale(1,1.037)" x="1444.80 1489.54 1526.08 1547.10 1565.89 1583.59 1609.54" y="0">Ast irr</text><line x1="1286.55" y1="466.5" x2="1426.85" y2="466.5" stroke="#008080" stroke-width="6.3" stroke-linecap="round"/><text class="lg" transform="translate(0,487.8) scale(1,1.037)" x="1444.80 1489.54 1525.83 1547.01 1565.95 1610.42 1657.00 1678.94 1697.39 1722.59" y="0">Ast/AG irr</text>
</svg>
</body></html>
